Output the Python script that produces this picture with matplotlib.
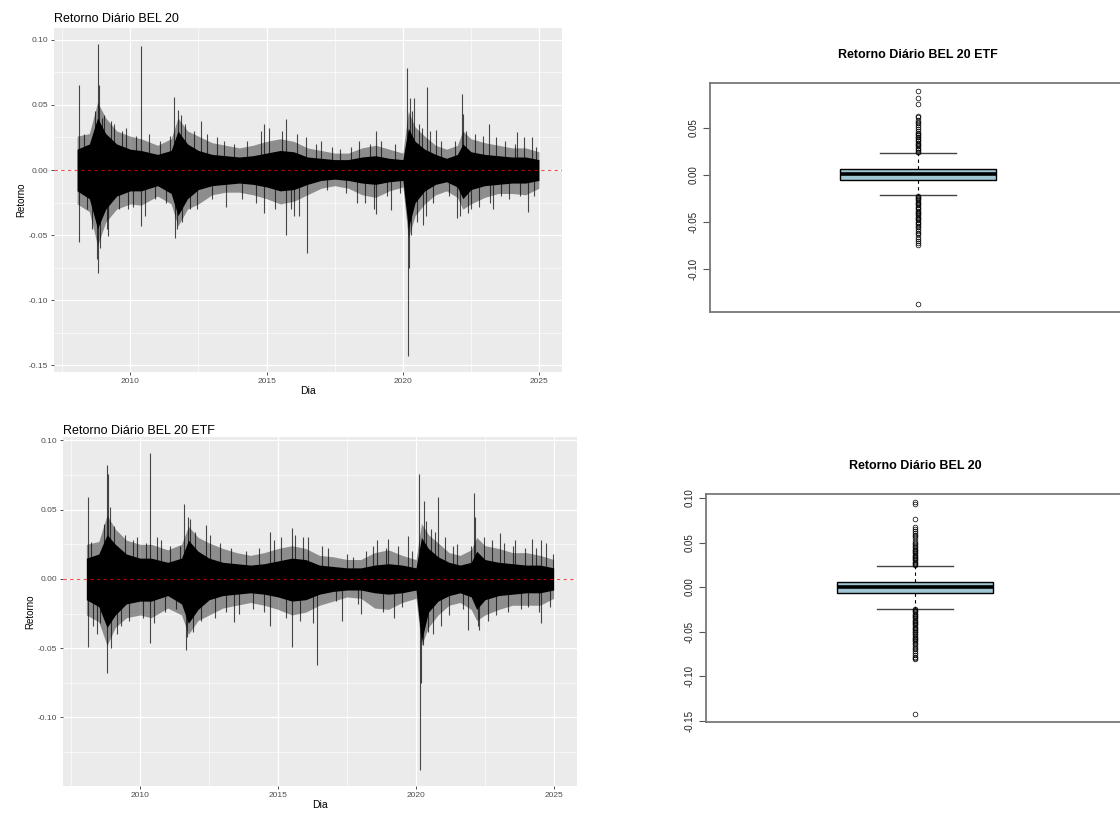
import matplotlib
matplotlib.use("Agg")
import matplotlib.pyplot as plt
import numpy as np
from matplotlib.ticker import MultipleLocator, FormatStrFormatter

plt.rcParams['font.family'] = ['Liberation Sans', 'DejaVu Sans']
plt.rcParams['axes.unicode_minus'] = False

# DATAS DE LEITURA DO ENVELOPE (anos decimais)
datas = [2008.05, 2008.5, 2008.8, 2009.1, 2009.5, 2010.0, 2010.4, 2011.0, 2011.5, 2011.75,
         2012.1, 2012.5, 2013.0, 2013.5, 2014.0, 2014.5, 2015.0, 2015.5, 2016.0, 2016.5,
         2017.0, 2017.5, 2018.0, 2018.5, 2019.0, 2019.5, 2020.0, 2020.2, 2020.45, 2020.8,
         2021.2, 2021.6, 2022.0, 2022.2, 2022.5, 2023.0, 2023.5, 2024.0, 2024.5, 2024.99]

# BEL 20 - envelope externo (linhas cinzas) e nucleo (preto denso)
bel_fora_cima = [0.026, 0.028, 0.052, 0.040, 0.030, 0.026, 0.024, 0.019, 0.024, 0.040,
                 0.030, 0.026, 0.021, 0.019, 0.017, 0.019, 0.022, 0.024, 0.022, 0.017,
                 0.015, 0.013, 0.013, 0.017, 0.019, 0.016, 0.013, 0.045, 0.033, 0.026,
                 0.019, 0.016, 0.019, 0.030, 0.024, 0.021, 0.019, 0.017, 0.017, 0.014]
bel_nucleo_cima = [0.016, 0.020, 0.040, 0.028, 0.020, 0.016, 0.015, 0.012, 0.015, 0.030,
                   0.020, 0.015, 0.012, 0.011, 0.010, 0.011, 0.013, 0.015, 0.014, 0.010,
                   0.009, 0.008, 0.008, 0.010, 0.011, 0.009, 0.008, 0.032, 0.022, 0.016,
                   0.012, 0.009, 0.012, 0.020, 0.014, 0.012, 0.011, 0.010, 0.010, 0.008]
bel_nucleo_baixo = [-0.016, -0.022, -0.045, -0.030, -0.020, -0.016, -0.016, -0.012, -0.018, -0.035,
                    -0.022, -0.015, -0.012, -0.011, -0.010, -0.011, -0.013, -0.016, -0.015, -0.011,
                    -0.008, -0.007, -0.008, -0.010, -0.011, -0.009, -0.008, -0.045, -0.025, -0.016,
                    -0.011, -0.009, -0.013, -0.022, -0.015, -0.012, -0.011, -0.010, -0.010, -0.008]
bel_fora_baixo = [-0.026, -0.032, -0.058, -0.040, -0.030, -0.026, -0.027, -0.020, -0.026, -0.043,
                  -0.030, -0.026, -0.019, -0.017, -0.017, -0.019, -0.022, -0.026, -0.024, -0.019,
                  -0.014, -0.012, -0.014, -0.019, -0.021, -0.016, -0.013, -0.052, -0.035, -0.026,
                  -0.019, -0.016, -0.021, -0.030, -0.026, -0.021, -0.018, -0.018, -0.019, -0.014]

# BEL 20 - picos visiveis (grandes e medios)
bel_pico_data = [2008.11, 2008.11, 2008.6, 2008.81, 2008.81, 2008.85, 2008.78, 2009.2, 2008.95, 2009.3,
                 2010.4, 2010.4, 2009.9, 2011.6, 2011.65, 2011.75, 2011.85, 2012.6, 2013.2, 2014.9,
                 2014.9, 2015.7, 2015.7, 2016.5, 2016.0, 2017.0, 2018.3, 2019.0, 2019.0, 2019.55,
                 2020.15, 2020.2, 2020.22, 2020.25, 2020.4, 2020.9, 2020.75, 2021.2, 2022.17, 2022.2,
                 2022.0, 2022.4, 2023.15, 2023.3, 2024.6, 2024.2, 2024.75,
                 2008.3, 2008.4, 2008.7, 2008.9, 2009.05, 2009.15, 2009.4, 2009.6, 2009.7, 2009.85,
                 2010.1, 2010.2, 2010.55, 2010.7, 2010.9, 2011.1, 2011.3, 2011.45, 2011.7, 2011.9,
                 2012.0, 2012.2, 2012.35, 2012.45, 2012.8, 2013.0, 2013.45, 2013.5, 2013.8, 2014.1,
                 2014.3, 2014.6, 2014.8, 2015.1, 2015.3, 2015.55, 2015.9, 2016.1, 2016.2, 2016.45,
                 2016.8, 2017.2, 2017.4, 2017.7, 2017.9, 2018.1, 2018.4, 2018.6, 2018.8, 2018.95,
                 2019.2, 2019.4, 2019.7, 2019.9, 2020.3, 2020.35, 2020.5, 2020.6, 2020.7, 2020.85,
                 2021.0, 2021.1, 2021.4, 2021.7, 2021.9, 2022.1, 2022.3, 2022.5, 2022.65, 2022.8,
                 2022.95, 2023.2, 2023.4, 2023.6, 2023.75, 2023.9, 2024.1, 2024.3, 2024.45, 2024.8,
                 2024.9]
bel_pico_valor = [0.065, -0.055, -0.045, 0.097, -0.079, 0.065, -0.068, -0.051, 0.040, 0.038,
                  0.095, -0.043, -0.030, 0.056, -0.052, 0.046, 0.042, 0.038, 0.025, 0.035,
                  -0.033, 0.039, -0.050, -0.064, -0.035, 0.022, -0.025, 0.030, -0.034, -0.031,
                  0.078, -0.143, -0.075, 0.055, 0.055, 0.064, -0.042, 0.031, 0.058, 0.043,
                  -0.037, -0.033, 0.035, -0.030, -0.032, 0.029, 0.025,
                  0.028, -0.030, 0.045, -0.060, 0.042, -0.045, 0.035, -0.030, 0.030, 0.032,
                  -0.028, 0.026, -0.035, 0.028, -0.022, 0.022, -0.025, 0.026, -0.045, -0.040,
                  0.035, -0.030, 0.030, -0.030, 0.028, -0.022, 0.022, -0.028, 0.020, -0.022,
                  0.022, -0.025, 0.030, 0.032, -0.030, 0.030, -0.030, 0.028, -0.035, 0.025,
                  0.020, -0.015, 0.018, 0.016, -0.018, 0.018, 0.022, -0.025, 0.020, -0.030,
                  0.022, -0.020, 0.020, -0.018, -0.050, 0.045, -0.040, 0.035, 0.032, -0.035,
                  0.030, -0.025, 0.022, -0.020, 0.022, -0.035, 0.030, -0.030, 0.028, -0.028,
                  0.026, -0.025, 0.025, -0.020, 0.022, -0.022, 0.020, -0.020, 0.025, -0.020,
                  0.018]

# BEL 20 ETF - envelope externo e nucleo
etf_fora_cima = [0.025, 0.027, 0.046, 0.036, 0.028, 0.025, 0.025, 0.021, 0.025, 0.038,
                 0.030, 0.026, 0.022, 0.019, 0.017, 0.019, 0.022, 0.024, 0.022, 0.017,
                 0.016, 0.014, 0.014, 0.019, 0.021, 0.017, 0.014, 0.040, 0.032, 0.026,
                 0.019, 0.017, 0.021, 0.030, 0.024, 0.022, 0.019, 0.019, 0.017, 0.014]
etf_nucleo_cima = [0.015, 0.018, 0.032, 0.025, 0.018, 0.015, 0.015, 0.012, 0.015, 0.028,
                   0.020, 0.015, 0.012, 0.011, 0.010, 0.011, 0.013, 0.015, 0.014, 0.010,
                   0.009, 0.008, 0.008, 0.010, 0.011, 0.010, 0.008, 0.030, 0.022, 0.016,
                   0.012, 0.010, 0.012, 0.020, 0.014, 0.012, 0.011, 0.010, 0.010, 0.008]
etf_nucleo_baixo = [-0.015, -0.020, -0.035, -0.026, -0.018, -0.016, -0.016, -0.012, -0.018, -0.032,
                    -0.022, -0.015, -0.012, -0.011, -0.010, -0.011, -0.013, -0.016, -0.015, -0.011,
                    -0.009, -0.008, -0.008, -0.010, -0.011, -0.010, -0.008, -0.045, -0.024, -0.016,
                    -0.012, -0.010, -0.013, -0.022, -0.015, -0.012, -0.011, -0.010, -0.010, -0.008]
etf_fora_baixo = [-0.026, -0.031, -0.048, -0.035, -0.028, -0.026, -0.028, -0.021, -0.026, -0.040,
                  -0.030, -0.026, -0.021, -0.019, -0.017, -0.019, -0.022, -0.026, -0.024, -0.019,
                  -0.016, -0.013, -0.014, -0.021, -0.022, -0.017, -0.014, -0.048, -0.035, -0.026,
                  -0.019, -0.017, -0.022, -0.030, -0.026, -0.022, -0.019, -0.019, -0.019, -0.014]

etf_pico_data = [2008.12, 2008.12, 2008.3, 2008.45, 2008.8, 2008.85, 2008.8, 2008.9, 2009.3, 2010.35,
                 2010.35, 2010.6, 2011.6, 2011.65, 2011.75, 2011.8, 2012.4, 2013.4, 2014.7, 2014.7,
                 2015.5, 2015.5, 2015.9, 2016.4, 2017.3, 2018.0, 2018.6, 2019.0, 2019.7, 2020.12,
                 2020.15, 2020.18, 2020.3, 2020.8, 2020.6, 2021.5, 2022.1, 2022.15, 2021.9, 2022.3,
                 2023.05, 2023.6, 2024.2, 2024.55, 2024.55,
                 2008.2, 2008.55, 2008.7, 2008.95, 2009.05, 2009.15, 2009.45, 2009.6, 2009.75, 2009.9,
                 2010.1, 2010.2, 2010.5, 2010.75, 2010.9, 2011.1, 2011.3, 2011.45, 2011.7, 2011.9,
                 2012.0, 2012.2, 2012.55, 2012.7, 2012.9, 2013.1, 2013.3, 2013.6, 2013.85, 2014.1,
                 2014.3, 2014.5, 2014.85, 2015.1, 2015.3, 2015.6, 2015.8, 2016.1, 2016.25, 2016.6,
                 2016.8, 2017.1, 2017.5, 2017.7, 2017.9, 2018.2, 2018.45, 2018.8, 2018.9, 2019.2,
                 2019.35, 2019.5, 2019.85, 2020.25, 2020.35, 2020.45, 2020.55, 2020.7, 2020.9, 2021.05,
                 2021.2, 2021.35, 2021.7, 2022.0, 2022.25, 2022.45, 2022.6, 2022.75, 2022.9, 2023.2,
                 2023.35, 2023.5, 2023.8, 2023.95, 2024.05, 2024.35, 2024.45, 2024.7, 2024.85, 2024.95]
etf_pico_valor = [0.059, -0.049, -0.034, -0.040, 0.082, 0.076, -0.068, 0.052, -0.034, 0.091,
                  -0.046, 0.030, 0.054, -0.051, 0.045, 0.043, 0.039, -0.031, 0.034, -0.034,
                  0.037, -0.049, 0.030, -0.062, -0.030, -0.025, 0.028, 0.029, 0.031, 0.076,
                  -0.138, -0.075, 0.056, 0.059, -0.040, 0.025, 0.062, 0.045, -0.037, -0.037,
                  0.033, 0.028, 0.029, -0.032, 0.028,
                  0.027, -0.032, 0.040, -0.050, 0.038, -0.040, 0.032, -0.030, 0.028, 0.030,
                  -0.028, 0.026, -0.032, 0.028, -0.024, 0.024, -0.022, 0.024, -0.042, -0.038,
                  0.034, -0.030, 0.032, -0.028, 0.026, -0.024, 0.022, -0.025, 0.020, -0.022,
                  0.022, -0.024, 0.028, 0.030, -0.028, 0.032, -0.030, 0.030, -0.032, 0.024,
                  0.022, -0.016, 0.018, 0.016, -0.018, 0.020, 0.024, -0.024, 0.022, -0.028,
                  0.024, -0.020, 0.020, -0.048, 0.042, -0.038, 0.036, 0.034, -0.034, 0.030,
                  -0.026, 0.024, -0.022, 0.024, -0.034, 0.030, -0.030, 0.028, -0.026, 0.026,
                  -0.024, 0.024, -0.022, 0.022, -0.020, 0.022, -0.024, 0.026, -0.020, 0.018]

# BOXPLOTS - estatisticas
etf_caixa = {'q1': -0.0055, 'med': 0.0006, 'q3': 0.0068, 'whislo': -0.0214, 'whishi': 0.0232}
etf_outliers = [0.024, 0.025, 0.0265, 0.028, 0.029, 0.0305, 0.032, 0.033, 0.0345, 0.036,
                0.037, 0.0385, 0.040, 0.041, 0.0425, 0.044, 0.045, 0.0465, 0.049, 0.051,
                0.053, 0.055, 0.056, 0.059, 0.062, 0.063, 0.076, 0.082, 0.089,
                -0.022, -0.023, -0.0245, -0.026, -0.027, -0.0285, -0.030, -0.031, -0.0325, -0.034,
                -0.035, -0.0365, -0.038, -0.039, -0.0405, -0.042, -0.043, -0.0445, -0.046, -0.047,
                -0.0485, -0.050, -0.051, -0.0525, -0.054, -0.0555, -0.058, -0.060, -0.062, -0.063,
                -0.066, -0.068, -0.070, -0.073, -0.075, -0.137]

bel_caixa = {'q1': -0.0067, 'med': 0.0, 'q3': 0.0056, 'whislo': -0.0242, 'whishi': 0.0235}
bel_outliers = [0.0245, 0.026, 0.027, 0.0285, 0.030, 0.031, 0.0325, 0.034, 0.035, 0.0365,
                0.038, 0.039, 0.0405, 0.042, 0.043, 0.0445, 0.046, 0.048, 0.050, 0.052,
                0.055, 0.057, 0.059, 0.061, 0.063, 0.065, 0.067, 0.076, 0.093, 0.095,
                -0.0245, -0.026, -0.027, -0.0285, -0.030, -0.031, -0.0325, -0.034, -0.035, -0.0365,
                -0.038, -0.039, -0.0405, -0.042, -0.043, -0.0445, -0.046, -0.047, -0.0485, -0.050,
                -0.051, -0.0525, -0.054, -0.0555, -0.057, -0.058, -0.0595, -0.061, -0.0625, -0.064,
                -0.066, -0.068, -0.070, -0.072, -0.074, -0.076, -0.078, -0.080, -0.081, -0.142]


def estilo_gg(ax):
    ax.set_facecolor('#EBEBEB')
    for s in ax.spines.values():
        s.set_visible(False)
    ax.xaxis.set_major_locator(MultipleLocator(5))
    ax.xaxis.set_minor_locator(MultipleLocator(2.5))
    ax.yaxis.set_major_locator(MultipleLocator(0.05))
    ax.yaxis.set_minor_locator(MultipleLocator(0.025))
    ax.yaxis.set_major_formatter(FormatStrFormatter('%.2f'))
    ax.xaxis.set_major_formatter(FormatStrFormatter('%d'))
    ax.grid(which='major', color='white', lw=0.9)
    ax.grid(which='minor', color='white', lw=0.45)
    ax.set_axisbelow(True)
    ax.tick_params(which='major', length=2.5, width=0.6, color='#333333',
                   labelsize=6, labelcolor='#4D4D4D', pad=1.5)
    ax.tick_params(which='minor', length=0)


def serie(ax, titulo, fc, nc, nb, fb, pd_, pv, pad_titulo):
    estilo_gg(ax)
    ax.fill_between(datas, fb, fc, color='black', alpha=0.4, lw=0)
    ax.vlines(pd_, 0, pv, color='black', lw=0.8, alpha=0.7)
    ax.fill_between(datas, nb, nc, color='black', lw=0)
    ax.axhline(0, color='red', lw=0.8, ls=(0, (3, 3)), alpha=0.7)
    x0, x1 = datas[0], datas[-1]
    y0, y1 = min(pv), max(pv)
    ax.set_xlim(x0 - 0.05 * (x1 - x0), x1 + 0.05 * (x1 - x0))
    ax.set_ylim(y0 - 0.05 * (y1 - y0), y1 + 0.05 * (y1 - y0))
    ax.set_title(titulo, loc='left', fontsize=9, pad=pad_titulo)
    ax.set_xlabel('Dia', fontsize=7.5, labelpad=1)
    ax.set_ylabel('Retorno', fontsize=7, labelpad=2)


def caixa(ax, titulo, est, outl):
    st = dict(est)
    st['fliers'] = outl
    ax.bxp([st], positions=[1], widths=0.75, capwidths=0.365, patch_artist=True,
           boxprops=dict(facecolor='#9fc6d2', edgecolor='black', lw=1.0),
           medianprops=dict(color='black', lw=2.6),
           whiskerprops=dict(color='black', lw=0.8, linestyle=(0, (3, 3))),
           capprops=dict(color='#444444', lw=1.0),
           flierprops=dict(marker='o', markerfacecolor='none', markeredgecolor='black',
                           markersize=3.4, markeredgewidth=0.5))
    todos = outl + [est['whislo'], est['whishi']]
    lo, hi = min(todos), max(todos)
    ax.set_ylim(lo - 0.04 * (hi - lo), hi + 0.04 * (hi - lo))
    ax.set_xlim(0, 2)
    ax.set_xticks([])
    ax.yaxis.set_major_locator(MultipleLocator(0.05))
    ax.yaxis.set_major_formatter(FormatStrFormatter('%.2f'))
    ax.tick_params(axis='y', length=5, width=0.8, color='#555555', labelsize=7,
                   labelcolor='#222222', pad=3)
    for lab in ax.get_yticklabels():
        lab.set_rotation(90)
        lab.set_va('center')
    for s in ax.spines.values():
        s.set_color('#777777')
        s.set_linewidth(1.3)
    ax.set_title(titulo, fontweight='bold', fontsize=9, pad=18)


fig = plt.figure(figsize=(11.2, 8.17), dpi=100)

ax1 = fig.add_axes([54 / 1120, 1 - 372 / 817, 508 / 1120, 344 / 817])
serie(ax1, 'Retorno Diário BEL 20', bel_fora_cima, bel_nucleo_cima, bel_nucleo_baixo,
      bel_fora_baixo, bel_pico_data, bel_pico_valor, 4)

ax2 = fig.add_axes([63 / 1120, 1 - 786 / 817, 514 / 1120, 349 / 817])
serie(ax2, 'Retorno Diário BEL 20 ETF', etf_fora_cima, etf_nucleo_cima, etf_nucleo_baixo,
      etf_fora_baixo, etf_pico_data, etf_pico_valor, 2)

ax3 = fig.add_axes([710 / 1120, 1 - 312 / 817, 416 / 1120, 229 / 817])
caixa(ax3, 'Retorno Diário BEL 20 ETF', etf_caixa, etf_outliers)

ax4 = fig.add_axes([706 / 1120, 1 - 722 / 817, 418 / 1120, 228 / 817])
caixa(ax4, 'Retorno Diário BEL 20', bel_caixa, bel_outliers)

fig.savefig('out.png', dpi=100)
